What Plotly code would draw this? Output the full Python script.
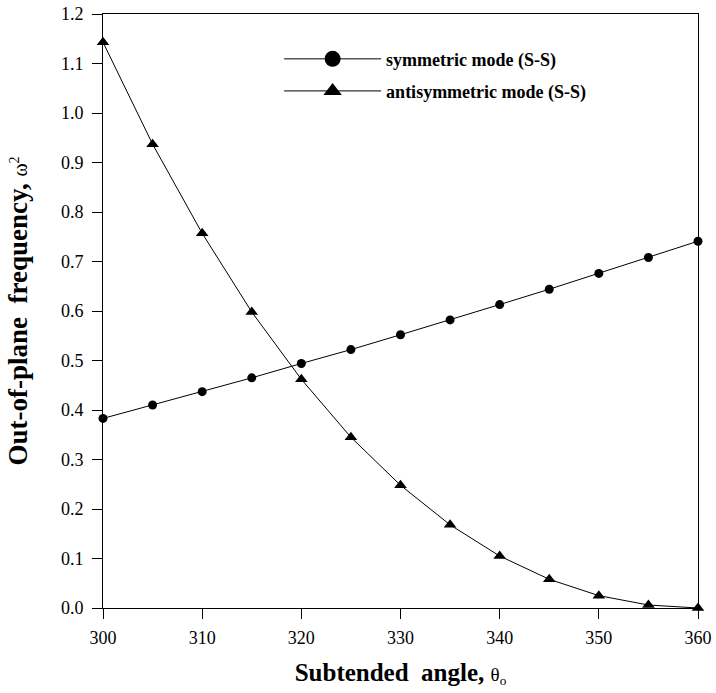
import plotly.graph_objects as go

angles = [300, 305, 310, 315, 320, 325, 330, 335, 340, 345, 350, 355, 360]
symmetric = [0.383, 0.410, 0.437, 0.465, 0.494, 0.522, 0.552, 0.582, 0.613, 0.644, 0.676, 0.708, 0.741]
antisymmetric = [1.143, 0.937, 0.757, 0.598, 0.462, 0.345, 0.248, 0.168, 0.105, 0.058, 0.025, 0.006, 0.0]
series_names = ["symmetric mode (S-S)", "antisymmetric mode (S-S)"]

x_ticks = [300, 310, 320, 330, 340, 350, 360]
y_ticks = [0.0, 0.1, 0.2, 0.3, 0.4, 0.5, 0.6, 0.7, 0.8, 0.9, 1.0, 1.1, 1.2]

FONT = "Liberation Serif"

fig = go.Figure()
# data traces
fig.add_trace(go.Scatter(
    x=angles, y=symmetric, mode="lines+markers", name=series_names[0],
    line=dict(color="black", width=1),
    marker=dict(symbol="circle", size=9, color="black"),
    cliponaxis=False, showlegend=False,
))
fig.add_trace(go.Scatter(
    x=angles, y=antisymmetric, mode="lines+markers", name=series_names[1],
    line=dict(color="black", width=1),
    marker=dict(symbol="triangle-up", size=11, color="black"),
    cliponaxis=False, showlegend=False,
))
# legend entries (larger symbols, as in the reference key)
fig.add_trace(go.Scatter(
    x=[None], y=[None], mode="lines+markers", name=series_names[0],
    line=dict(color="black", width=1),
    marker=dict(symbol="circle", size=16, color="black"),
    legend="legend",
))
fig.add_trace(go.Scatter(
    x=[None], y=[None], mode="lines+markers", name=series_names[1],
    line=dict(color="black", width=1),
    marker=dict(symbol="triangle-up", size=16, color="black"),
    legend="legend2",
))

leg_common = dict(
    xanchor="left", yanchor="middle",
    bgcolor="rgba(0,0,0,0)", borderwidth=0,
    font=dict(family=FONT, size=18, color="black", weight="bold"),
    itemwidth=97,
)

fig.update_layout(
    width=716, height=693,
    margin=dict(l=103, r=18, t=14, b=85),
    paper_bgcolor="white", plot_bgcolor="white",
    font=dict(family=FONT, color="black", size=18),
    showlegend=True,
    legend=dict(x=0.296, y=0.924, **leg_common),
    legend2=dict(x=0.296, y=0.870, **leg_common),
    xaxis=dict(
        range=[300, 360], tickvals=x_ticks, ticktext=[str(v) for v in x_ticks],
        ticks="outside", ticklen=10, tickwidth=1, tickcolor="black",
        showline=True, linecolor="black", linewidth=1, mirror=True,
        showgrid=False, zeroline=False, automargin=False,
        ticklabelstandoff=3,
        tickfont=dict(family=FONT, size=18),
        title=dict(text="<b>Subtended  angle, </b><span style='font-size:19px'>θ<sub>o</sub></span>",
                   font=dict(family=FONT, size=25), standoff=16),
    ),
    yaxis=dict(
        range=[0, 1.2], tickvals=y_ticks, ticktext=[f"{v:.1f}" for v in y_ticks],
        ticks="outside", ticklen=10, tickwidth=1, tickcolor="black",
        showline=True, linecolor="black", linewidth=1, mirror=True,
        showgrid=False, zeroline=False, automargin=False,
        ticklabelstandoff=5,
        tickfont=dict(family=FONT, size=18),
        title=dict(text="<b>Out-of-plane  frequency, </b><span style='font-size:20px'>ω<sup>2</sup></span>",
                   font=dict(family=FONT, size=27), standoff=25),
    ),
)

fig.write_html("out.html")
